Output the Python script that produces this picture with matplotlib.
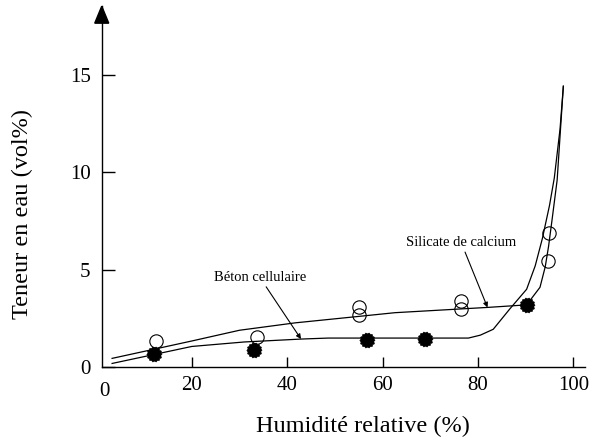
import numpy as np
import matplotlib
matplotlib.use("Agg")
import matplotlib.pyplot as plt
from matplotlib.patches import Polygon

plt.rcParams['font.family'] = ['Liberation Serif', 'DejaVu Serif']

# ---- data ----
filled_x = [12.1, 33.0, 56.8, 68.9, 90.2]
filled_y = [0.67, 0.88, 1.42, 1.45, 3.20]

open_x = [12.5, 33.6, 55.1, 55.1, 76.5, 76.5, 94.6, 94.8]
open_y = [1.35, 1.53, 3.10, 2.68, 3.39, 2.97, 5.44, 6.86]

beton_curve_x = [3.3, 20.0, 31.0, 43.0, 48.6, 78.0, 80.5, 83.2, 86.7, 90.2, 92.0, 93.5, 95.0, 96.0, 97.2, 97.9]
beton_curve_y = [0.20, 1.07, 1.30, 1.45, 1.50, 1.50, 1.65, 1.95, 3.00, 4.00, 5.20, 6.60, 8.30, 9.70, 12.2, 14.4]

silicate_curve_x = [3.3, 20.0, 30.0, 41.7, 54.2, 62.6, 82.0, 90.2, 93.0, 94.1, 94.8, 95.5, 96.6, 97.3, 97.9]
silicate_curve_y = [0.46, 1.35, 1.90, 2.28, 2.59, 2.80, 3.07, 3.20, 4.10, 5.15, 6.20, 7.50, 9.60, 12.2, 14.4]

x_ticks = [20, 40, 60, 80, 100]
y_ticks = [0, 5, 10, 15]

# ---- figure ----
fig = plt.figure(figsize=(5.95, 4.41), dpi=100)
ax = fig.add_axes([0.171, 0.167, 0.8123, 0.819])

xmin, xmax = 1.13, 102.45
ymin, ymax = 0.0, 18.5
ax.set_xlim(xmin, xmax)
ax.set_ylim(ymin, ymax)

ax.plot(beton_curve_x, beton_curve_y, color='black', lw=0.9, zorder=2)
ax.plot(silicate_curve_x, silicate_curve_y, color='black', lw=0.9, zorder=2)

# jagged filled marker
ang = np.linspace(0, 2 * np.pi, 28, endpoint=False)
rad = np.where(np.arange(28) % 2 == 0, 1.0, 0.86)
jag = list(zip(rad * np.cos(ang), rad * np.sin(ang)))

ax.plot(filled_x, filled_y, linestyle='none', marker=jag, markersize=11,
        markerfacecolor='black', markeredgecolor='black', markeredgewidth=0.5, zorder=3)
ax.plot(open_x, open_y, linestyle='none', marker='o', markersize=9.6,
        markerfacecolor='none', markeredgecolor='black', markeredgewidth=0.8, zorder=3)

# annotations
arrow = dict(arrowstyle='-|>', lw=0.8, color='black', mutation_scale=7,
             shrinkA=0, shrinkB=0)
ax.annotate('Béton cellulaire', xy=(42.9, 1.45), xytext=(34.3, 4.6),
            fontsize=10.5, ha='center', va='center',
            arrowprops=dict(arrow), zorder=4)
ax.annotate('Silicate de calcium', xy=(82.0, 3.07), xytext=(76.5, 6.38),
            fontsize=10.5, ha='center', va='center',
            arrowprops=dict(arrow), zorder=4)

# axes styling
for s in ['top', 'right']:
    ax.spines[s].set_visible(False)
for s in ['left', 'bottom']:
    ax.spines[s].set_linewidth(1.0)

ax.set_xticks(x_ticks)
ax.set_yticks(y_ticks)
ax.tick_params(axis='x', direction='in', length=7.5, width=1.0, labelsize=15, pad=6)
ax.tick_params(axis='y', direction='in', length=9.5, width=1.0, labelsize=15, pad=8)

ax.text(1.6, -0.75, '0', fontsize=15, ha='center', va='top')

# arrow head on the y axis
h = 17 / 19.53
w = 7 / 4.77
ax.add_patch(Polygon([(xmin - w, ymax - h), (xmin + w, ymax - h), (xmin, ymax)],
                     closed=True, facecolor='black', edgecolor='black',
                     clip_on=False, zorder=5))

ax.set_xlabel('Humidité relative (%)', fontsize=17.5, va='center', ha='center')
ax.xaxis.set_label_coords(0.540, -0.1644)
ax.set_ylabel('Teneur en eau (vol%)', fontsize=17.5, va='center', ha='center')
ax.yaxis.set_label_coords(-0.165, 0.424)

fig.savefig('out.png', dpi=100)
